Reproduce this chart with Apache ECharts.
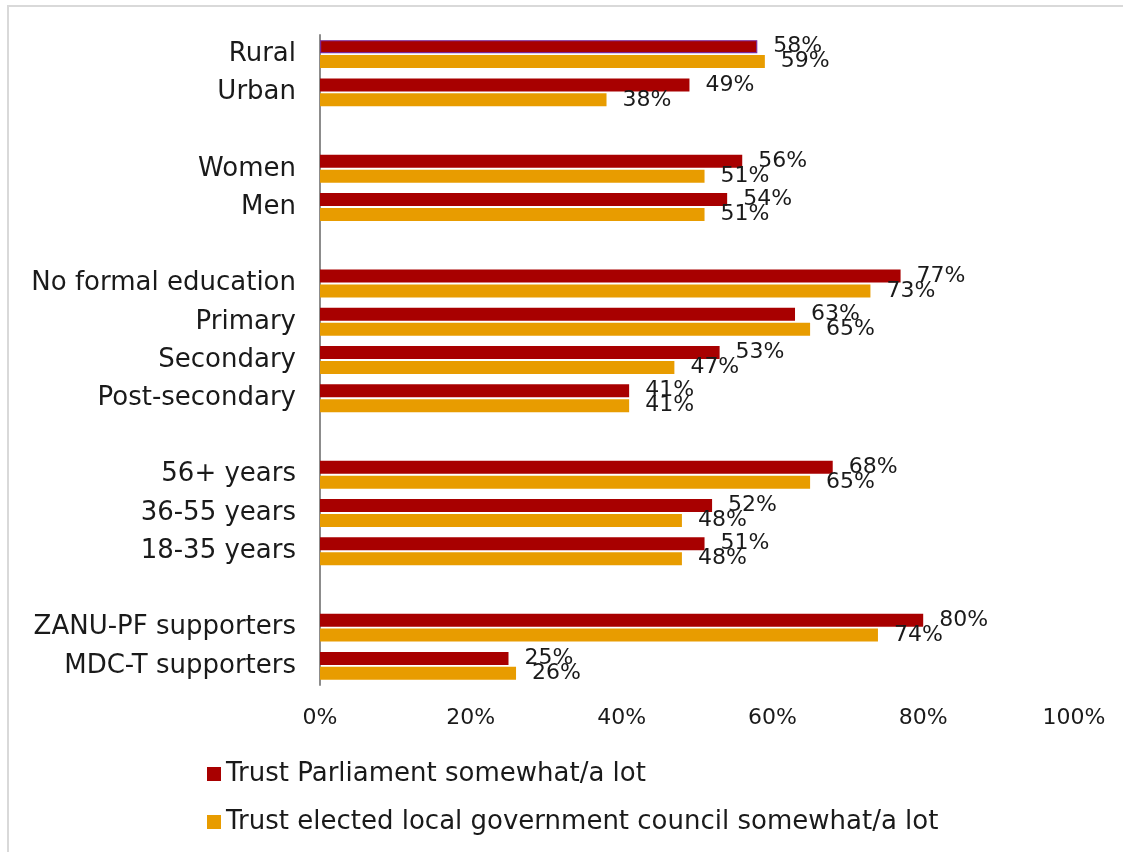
<!DOCTYPE html>
<html>
<head>
<meta charset="utf-8">
<script src="https://cdn.jsdelivr.net/npm/echarts@6/dist/echarts.min.js"></script>
<style>
html,body{margin:0;padding:0;background:#fff;}
#chart{width:1123px;height:852px;}
</style>
</head>
<body>
<div id="chart"></div>
<script>
var categories = ['Rural','Urban','','Women','Men','','No formal education','Primary','Secondary','Post-secondary','','56+ years','36-55 years','18-35 years','','ZANU-PF supporters','MDC-T supporters'];
var parliament = [58,49,null,56,54,null,77,63,53,41,null,68,52,51,null,80,25];
var localCouncil = [59,38,null,51,51,null,73,65,47,41,null,65,48,48,null,74,26];
var xTicks = [0,20,40,60,80,100];
var seriesNames = ['Trust Parliament somewhat/a lot','Trust elected local government council somewhat/a lot'];

var FONT = '"DejaVu Sans", sans-serif';
var chart = echarts.init(document.getElementById('chart'), null, {renderer:'canvas'});

var parlData = parliament.map(function(v,i){
  if (i === 0) return {value:v, itemStyle:{borderColor:'#7a2a9a', borderWidth:1.2}};
  return v;
});

var lbl = {
  show:true, position:'right', distance:16,
  fontFamily:FONT, fontSize:22, color:'#1a1a1a',
  formatter:function(p){ return p.value==null ? '' : p.value + '%'; }
};

chart.setOption({
  animation:false,
  backgroundColor:'#fff',
  graphic:[{type:'rect', shape:{x:8, y:6, width:1300, height:1000}, style:{fill:'none', stroke:'#d9d9d9', lineWidth:2}, silent:true}],
  grid:{left:320, right:49, top:35, bottom:167, containLabel:false},
  xAxis:{
    type:'value', min:0, max:100, interval:20,
    axisLine:{show:false}, axisTick:{show:false}, splitLine:{show:false},
    axisLabel:{margin:22, fontFamily:FONT, fontSize:22, color:'#1a1a1a', formatter:function(v){ return xTicks.indexOf(v)>=0 ? v+'%' : ''; }}
  },
  yAxis:{
    type:'category', data:categories, inverse:true,
    axisLine:{show:true, lineStyle:{color:'#8c8c8c', width:2}},
    axisTick:{show:false},
    axisLabel:{margin:24, fontFamily:FONT, fontSize:26, color:'#1a1a1a'}
  },
  legend:{
    orient:'vertical', left:207, top:760, padding:0, itemWidth:14, itemHeight:14, itemGap:20,
    icon:'rect',
    textStyle:{fontFamily:FONT, fontSize:26, color:'#1a1a1a', lineHeight:28},
    data:seriesNames
  },
  series:[
    {name:seriesNames[0], type:'bar', data:parlData, barWidth:13, barGap:'15%', itemStyle:{color:'#a80000'}, label:lbl},
    {name:seriesNames[1], type:'bar', data:localCouncil, barWidth:13, barGap:'15%', itemStyle:{color:'#e89c00'}, label:lbl}
  ]
});
</script>
</body>
</html>
